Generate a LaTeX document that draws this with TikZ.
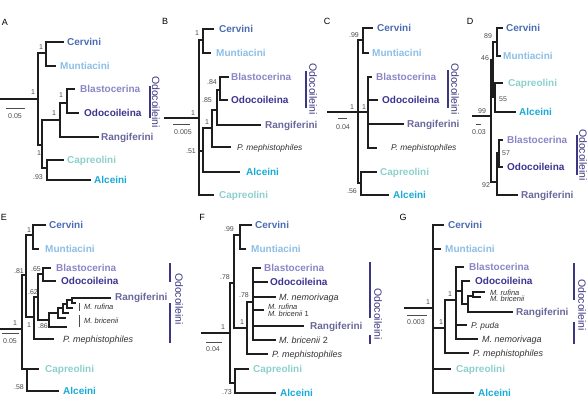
\documentclass[tikz,border=0pt]{standalone}
\usepackage{fontspec}
\setmainfont{Liberation Sans}
\definecolor{treec}{RGB}{30,30,30}
\definecolor{cervc}{RGB}{74,108,178}
\definecolor{muntc}{RGB}{140,190,230}
\definecolor{blasc}{RGB}{138,134,198}
\definecolor{odocc}{RGB}{60,52,145}
\definecolor{rangc}{RGB}{105,103,155}
\definecolor{caprc}{RGB}{140,208,205}
\definecolor{alcec}{RGB}{25,170,215}
\definecolor{odobr}{RGB}{60,55,130}
\definecolor{supc}{RGB}{75,75,75}
\definecolor{itc}{RGB}{50,50,50}
\begin{document}
\begin{tikzpicture}[x=1pt,y=-1pt,
  br/.style={line width=2.5pt, draw=treec, line cap=rect, line join=miter},
  tx/.style={anchor=west, inner sep=0pt, text height=7.2pt, text depth=0pt, font=\fontsize{10}{11}\selectfont\bfseries},
  it/.style={anchor=west, inner sep=0pt, text height=6.5pt, text depth=0pt, text=itc, font=\fontsize{9}{10}\selectfont\itshape},
  its/.style={anchor=west, inner sep=0pt, text height=6pt, text depth=0pt, text=itc, font=\fontsize{8.4}{9}\selectfont\itshape},
  itt/.style={anchor=west, inner sep=0pt, text height=5.3pt, text depth=0pt, text=itc, font=\fontsize{7.5}{8}\selectfont\itshape},
  sup/.style={inner sep=0pt, text=supc, font=\fontsize{7}{8}\selectfont},
  pl/.style={inner sep=0pt, text=black, font=\fontsize{9}{10}\selectfont},
  sc/.style={line width=0.8pt, draw=supc},
  obr/.style={line width=1.8pt, draw=odobr},
  otx/.style={inner sep=0pt, rotate=-90, text=odobr, font=\fontsize{10.5}{11}\selectfont},
  bar/.style={line width=0.8pt, draw=supc},
  cv/.style={tx,text=cervc}, mu/.style={tx,text=muntc}, bl/.style={tx,text=blasc},
  od/.style={tx,text=odocc}, ra/.style={tx,text=rangc}, ca/.style={tx,text=caprc},
  al/.style={tx,text=alcec}]
\useasboundingbox (0,0) rectangle (588,406);

% ---------------- Panel A ----------------
\node[pl] (pA) at (5,22) {A};
\draw[br] (0,99) -- (38,99);
\draw[br] (38,53) -- (38,145);
\draw[br] (38,53) -- (46,53);
\draw[br] (63,42) -- (46,42) -- (46,66) -- (55,66);
\draw[br] (38,145) -- (42,145);
\draw[br] (42,120) -- (42,168);
\draw[br] (42,120) -- (60,120);
\draw[br] (60,103) -- (60,137) -- (98,137);
\draw[br] (60,103) -- (67,103);
\draw[br] (74,89) -- (67,89) -- (67,113) -- (78,113);
\draw[br] (42,168) -- (47,168);
\draw[br] (63,160) -- (47,160) -- (47,180) -- (90,180);
\node[cv] (A1) at (67,42) {Cervini};
\node[mu] (A2) at (60,66) {Muntiacini};
\node[bl] (A3) at (80,89) {Blastocerina};
\node[od] (A4) at (84,113) {Odocoileina};
\node[ra] (A5) at (101,137) {Rangiferini};
\node[ca] (A6) at (67,160) {Capreolini};
\node[al] (A7) at (94,180) {Alceini};
\node[sup] (As1) at (33,92) {1};
\node[sup] (As2) at (41,47) {1};
\node[sup] (As3) at (39,153) {1};
\node[sup] (As4) at (54,113) {1};
\node[sup] (As5) at (61,95) {1};
\node[sup] (As6) at (38,177) {.93};
\draw[sc] (6,108) -- (25,108);
\node[sup] (Asc) at (15,116) {0.05};
\draw[obr] (150,86) -- (150,118);
\node[otx] (Ao) at (156,102) {Odocoileini};

% ---------------- Panel B ----------------
\node[pl] (pB) at (165,21) {B};
\draw[br] (165,118) -- (199,118);
\draw[br] (199,40) -- (199,195) -- (213,195);
\draw[br] (199,40) -- (203,40);
\draw[br] (213,29) -- (203,29) -- (203,53) -- (210,53);
\draw[br] (199,151) -- (203,151);
\draw[br] (203,128) -- (203,172) -- (239,172);
\draw[br] (203,128) -- (212,128);
\draw[br] (212,110) -- (212,147) -- (230,147);
\draw[br] (212,110) -- (217,110);
\draw[br] (217,90) -- (217,125) -- (260,125);
\draw[br] (217,90) -- (220,90);
\draw[br] (228,77) -- (220,77) -- (220,100) -- (227,100);
\node[cv] (B1) at (219,29) {Cervini};
\node[mu] (B2) at (216,53) {Muntiacini};
\node[bl] (B3) at (231,77) {Blastocerina};
\node[od] (B4) at (231,100) {Odocoileina};
\node[ra] (B5) at (265,125) {Rangiferini};
\node[its] (B6) at (237,147) {P. mephistophiles};
\node[al] (B7) at (246,172) {Alceini};
\node[ca] (B8) at (219,195) {Capreolini};
\node[sup] (Bs1) at (193,113) {1};
\node[sup] (Bs2) at (197,33) {1};
\node[sup] (Bs3) at (191,151) {.51};
\node[sup] (Bs4) at (207,122) {1};
\node[sup] (Bs5) at (207,100) {.85};
\node[sup] (Bs6) at (212,82) {.84};
\draw[sc] (173,124) -- (190,124);
\node[sup] (Bsc) at (183,132) {0.005};
\draw[obr] (306,71) -- (306,108);
\node[otx] (Bo) at (313,89) {Odocoileini};

% ---------------- Panel C ----------------
\node[pl] (pC) at (327,21) {C};
\draw[br] (328,112) -- (368,112);
\draw[br] (358,40) -- (358,183);
\draw[br] (358,40) -- (363,40);
\draw[br] (372,28) -- (363,28) -- (363,53) -- (368,53);
\draw[br] (371,77) -- (368,77) -- (368,148) -- (376,148);
\draw[br] (368,100) -- (377,100);
\draw[br] (368,124) -- (403,124);
\draw[br] (358,183) -- (361,183);
\draw[br] (376,172) -- (361,172) -- (361,195) -- (388,195);
\node[cv] (C1) at (377,28) {Cervini};
\node[mu] (C2) at (372,53) {Muntiacini};
\node[bl] (C3) at (376,77) {Blastocerina};
\node[od] (C4) at (382,100) {Odocoileina};
\node[ra] (C5) at (407,124) {Rangiferini};
\node[its] (C6) at (391,148) {P. mephistophiles};
\node[ca] (C7) at (380,172) {Capreolini};
\node[al] (C8) at (393,195) {Alceini};
\node[sup] (Cs1) at (352,107) {1};
\node[sup] (Cs2) at (364,107) {1};
\node[sup] (Cs3) at (354,35) {.99};
\node[sup] (Cs4) at (352,191) {.56};
\draw[sc] (338,118) -- (347,118);
\node[sup] (Csc) at (343,127) {0.04};
\draw[obr] (448,70) -- (448,108);
\node[otx] (Co) at (455,89) {Odocoileini};

% ---------------- Panel D ----------------
\node[pl] (pD) at (470,21) {D};
\draw[br] (473,116) -- (491,116);
\draw[br] (491,60) -- (491,182);
\draw[br] (491,60) -- (493,60);
\draw[br] (493,42) -- (493,97);
\draw[br] (493,42) -- (497,42);
\draw[br] (502,28) -- (497,28) -- (497,56) -- (500,56);
\draw[br] (493,97) -- (495,97);
\draw[br] (502,83) -- (495,83) -- (495,112) -- (515,112);
\draw[br] (491,182) -- (497,182);
\draw[br] (497,153) -- (497,195) -- (517,195);
\draw[br] (497,153) -- (499,153);
\draw[br] (502,140) -- (499,140) -- (499,167) -- (502,167);
\node[cv] (D1) at (506,28) {Cervini};
\node[mu] (D2) at (503,56) {Muntiacini};
\node[ca] (D3) at (508,83) {Capreolini};
\node[al] (D4) at (519,112) {Alceini};
\node[bl] (D5) at (507,140) {Blastocerina};
\node[od] (D6) at (507,167) {Odocoileina};
\node[ra] (D7) at (521,195) {Rangiferini};
\node[sup] (Ds1) at (482,111) {99};
\node[sup] (Ds2) at (485,58) {46};
\node[sup] (Ds3) at (488,36) {89};
\node[sup] (Ds4) at (503,99) {55};
\node[sup] (Ds5) at (506,153) {57};
\node[sup] (Ds6) at (486,185) {92};
\draw[sc] (476,124) -- (481,124);
\node[sup] (Dsc) at (479,132) {0.03};
\draw[obr] (577,135) -- (577,175);
\node[otx] (Do) at (583,155) {Odocoileini};

% ---------------- Panel E ----------------
\node[pl] (pE) at (4,217) {E};
\draw[br] (1,329) -- (22,329);
\draw[br] (22,275) -- (22,369);
\draw[br] (22,275) -- (26,275);
\draw[br] (26,235) -- (26,317);
\draw[br] (26,235) -- (33,235);
\draw[br] (45,225) -- (33,225) -- (33,249) -- (38,249);
\draw[br] (26,317) -- (34,317);
\draw[br] (34,297) -- (34,339) -- (53,339);
\draw[br] (34,297) -- (38,297);
\draw[br] (38,274) -- (38,320);
\draw[br] (38,274) -- (43,274);
\draw[br] (50,268) -- (43,268) -- (43,281) -- (55,281);
\draw[br] (38,320) -- (49,320);
\draw[br] (58,313) -- (49,313) -- (49,327) -- (66,327);
\draw[br] (63,308) -- (58,308) -- (58,318) -- (65,318);
\draw[br] (67,304) -- (63,304) -- (63,313) -- (68,313);
\draw[br] (72,300) -- (67,300) -- (67,308) -- (72,308);
\draw[br] (110,298) -- (72,298) -- (72,303) -- (75,303);
\draw[br] (22,369) -- (38,369);
\draw[br] (27,369) -- (27,391) -- (58,391);
\node[cv] (E1) at (49,225) {Cervini};
\node[mu] (E2) at (45,249) {Muntiacini};
\node[bl] (E3) at (56,268) {Blastocerina};
\node[od] (E4) at (61,281) {Odocoileina};
\node[ra] (E5) at (115,297) {Rangiferini};
\node[itt] (E6) at (84,307) {M. rufina};
\node[itt] (E7) at (84,321) {M. bricenii};
\node[it] (E8) at (63,339) {P. mephistophiles};
\node[ca] (E9) at (45,369) {Capreolini};
\node[al] (E10) at (63,391) {Alceini};
\draw[bar] (79,303) -- (79,311);
\draw[bar] (79,315) -- (79,327);
\node[sup] (Es1) at (15,323) {1};
\node[sup] (Es2) at (19,271) {.81};
\node[sup] (Es3) at (29,230) {1};
\node[sup] (Es4) at (29,325) {1};
\node[sup] (Es5) at (33,292) {.62};
\node[sup] (Es6) at (36,269) {.65};
\node[sup] (Es7) at (43,326) {.86};
\node[sup] (Es8) at (19,387) {.58};
\draw[sc] (2,333) -- (19,333);
\node[sup] (Esc) at (10,341) {0.05};
\draw[obr] (170,263) -- (170,282);
\draw[obr] (170,303) -- (170,343);
\node[otx] (Eo) at (179,299) {Odocoileini};

% ---------------- Panel F ----------------
\node[pl] (pF) at (202,217) {F};
\draw[br] (202,333) -- (230,333);
\draw[br] (230,283) -- (230,383);
\draw[br] (230,283) -- (234,283);
\draw[br] (234,235) -- (234,328);
\draw[br] (234,235) -- (240,235);
\draw[br] (251,225) -- (240,225) -- (240,249) -- (245,249);
\draw[br] (234,328) -- (247,328);
\draw[br] (247,302) -- (247,354) -- (267,354);
\draw[br] (247,302) -- (253,302);
\draw[br] (260,268) -- (253,268) -- (253,340) -- (275,340);
\draw[br] (253,282) -- (267,282);
\draw[br] (253,297) -- (275,297);
\draw[br] (253,310) -- (263,310);
\draw[br] (253,326) -- (303,326);
\draw[br] (230,383) -- (235,383);
\draw[br] (248,369) -- (235,369) -- (235,393) -- (275,393);
\node[cv] (F1) at (255,225) {Cervini};
\node[mu] (F2) at (251,249) {Muntiacini};
\node[bl] (F3) at (264,268) {Blastocerina};
\node[od] (F4) at (270,282) {Odocoileina};
\node[it] (F5) at (279,297) {M. nemorivaga};
\node[itt] (F6) at (268,307) {M. rufina};
\node[itt] (F7) at (268,314) {M. bricenii\/ \upshape 1};
\node[ra] (F8) at (310,326) {Rangiferini};
\node[it] (F9) at (279,340) {M. bricenii\/ \upshape 2};
\node[it] (F10) at (272,354) {P. mephistophiles};
\node[ca] (F11) at (253,369) {Capreolini};
\node[al] (F12) at (280,393) {Alceini};
\node[sup] (Fs1) at (223,327) {1};
\node[sup] (Fs2) at (225,277) {.78};
\node[sup] (Fs3) at (229,229) {.99};
\node[sup] (Fs4) at (242,322) {1};
\node[sup] (Fs5) at (244,295) {.78};
\node[sup] (Fs6) at (227,392) {.73};
\draw[sc] (206,342) -- (222,342);
\node[sup] (Fsc) at (213,349) {0.04};
\draw[obr] (370,262) -- (370,318);
\draw[obr] (370,335) -- (370,344);
\node[otx] (Fo) at (378,314) {Odocoileini};

% ---------------- Panel G ----------------
\node[pl] (pG) at (403,217) {G};
\draw[br] (405,308) -- (433,308);
\draw[br] (443,225) -- (433,225) -- (433,393) -- (473,393);
\draw[br] (433,249) -- (440,249);
\draw[br] (433,369) -- (450,369);
\draw[br] (433,328) -- (445,328);
\draw[br] (445,300) -- (445,353) -- (468,353);
\draw[br] (445,300) -- (456,300);
\draw[br] (463,267) -- (456,267) -- (456,339) -- (477,339);
\draw[br] (456,325) -- (466,325);
\draw[br] (456,291) -- (462,291);
\draw[br] (469,281) -- (462,281) -- (462,304) -- (468,304);
\draw[br] (468,296) -- (468,312) -- (512,312);
\draw[br] (468,296) -- (473,296);
\draw[br] (484,292) -- (473,292) -- (473,297) -- (480,297);
\node[cv] (G1) at (448,225) {Cervini};
\node[mu] (G2) at (445,249) {Muntiacini};
\node[bl] (G3) at (469,267) {Blastocerina};
\node[od] (G4) at (475,281) {Odocoileina};
\node[itt] (G5) at (490,293) {M. rufina};
\node[itt] (G6) at (490,299) {M. bricenii};
\node[ra] (G7) at (516,312) {Rangiferini};
\node[its] (G8) at (471,325) {P. puda};
\node[it] (G9) at (482,339) {M. nemorivaga};
\node[it] (G10) at (473,353) {P. mephistophiles};
\node[ca] (G11) at (456,369) {Capreolini};
\node[al] (G12) at (478,393) {Alceini};
\node[sup] (Gs1) at (428,302) {1};
\node[sup] (Gs2) at (441,322) {1};
\node[sup] (Gs3) at (450,294) {1};
\draw[sc] (407,315) -- (427,315);
\node[sup] (Gsc) at (416,322) {0.003};
\draw[obr] (574,263) -- (574,300);
\draw[obr] (574,322) -- (574,344);
\node[otx] (Go) at (582,305) {Odocoileini};
\end{tikzpicture}
\end{document}
